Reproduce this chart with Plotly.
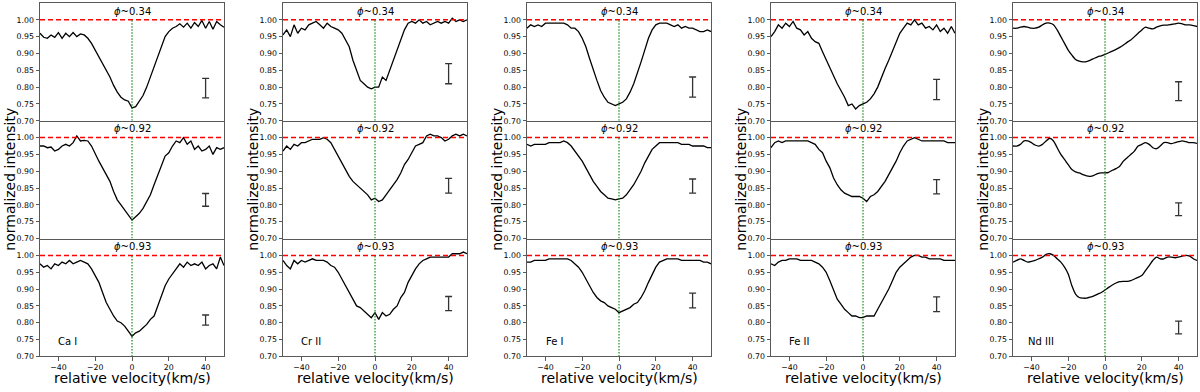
import plotly.graph_objects as go

# ---------------- data ----------------
velocity = [-50, -48, -46, -44, -42, -40, -38, -36, -34, -32, -30, -28, -26, -24, -22, -20, -18, -16, -14, -12,
            -10, -8, -6, -4, -2, 0, 2, 4, 6, 8, 10, 12, 14, 16, 18, 20, 22, 24, 26, 28,
            30, 32, 34, 36, 38, 40, 42, 44, 46, 48, 50]

elements = ["Ca I", "Cr II", "Fe I", "Fe II", "Nd III"]
phases = ["0.34", "0.92", "0.93"]

ca1_034 = [0.960, 0.948, 0.945, 0.955, 0.948, 0.962, 0.945, 0.960, 0.950, 0.962, 0.950, 0.958, 0.955, 0.945, 0.930, 0.910, 0.890, 0.870, 0.850, 0.830,
           0.805, 0.785, 0.770, 0.762, 0.758, 0.738, 0.742, 0.758, 0.775, 0.800, 0.830, 0.860, 0.890, 0.925, 0.950, 0.965, 0.975, 0.980, 0.988, 0.978,
           0.990, 0.975, 0.992, 0.980, 0.998, 0.975, 0.995, 0.972, 0.995, 0.985, 0.978]
ca1_092 = [0.975, 0.975, 0.970, 0.972, 0.960, 0.965, 0.975, 0.980, 0.975, 0.985, 1.005, 0.990, 0.992, 0.990, 0.975, 0.950, 0.930, 0.910, 0.890, 0.870,
           0.840, 0.815, 0.800, 0.785, 0.770, 0.755, 0.765, 0.775, 0.790, 0.810, 0.830, 0.860, 0.890, 0.920, 0.945, 0.955, 0.975, 0.990, 0.985, 1.000,
           0.980, 0.990, 0.965, 0.975, 0.960, 0.965, 0.975, 0.950, 0.970, 0.965, 0.970]
ca1_093 = [0.975, 0.965, 0.970, 0.960, 0.975, 0.970, 0.980, 0.975, 0.985, 0.975, 0.980, 0.985, 0.980, 0.975, 0.960, 0.940, 0.920, 0.890, 0.860, 0.840,
           0.820, 0.805, 0.800, 0.790, 0.775, 0.760, 0.770, 0.775, 0.785, 0.795, 0.810, 0.820, 0.850, 0.880, 0.910, 0.930, 0.945, 0.960, 0.975, 0.965,
           0.980, 0.970, 0.975, 0.970, 0.980, 0.960, 0.970, 0.975, 0.960, 0.995, 0.970]

cr2_034 = [0.955, 0.970, 0.950, 0.985, 0.960, 0.975, 0.970, 0.985, 0.990, 0.995, 0.985, 0.975, 0.990, 0.980, 0.975, 0.970, 0.960, 0.940, 0.920, 0.880,
           0.850, 0.820, 0.810, 0.800, 0.795, 0.800, 0.800, 0.830, 0.820, 0.850, 0.880, 0.910, 0.945, 0.970, 0.990, 0.995, 0.990, 1.000, 0.990, 0.995,
           0.985, 0.990, 0.995, 0.990, 0.995, 0.990, 1.005, 0.995, 1.000, 0.995, 1.000]
cr2_092 = [0.960, 0.975, 0.965, 0.980, 0.975, 0.985, 0.985, 0.990, 0.995, 0.995, 0.995, 1.000, 0.995, 0.985, 0.965, 0.945, 0.925, 0.905, 0.885, 0.870,
           0.860, 0.850, 0.840, 0.830, 0.815, 0.820, 0.810, 0.815, 0.830, 0.845, 0.860, 0.875, 0.895, 0.920, 0.935, 0.955, 0.975, 0.980, 0.985, 1.005,
           1.010, 1.005, 1.005, 1.000, 0.990, 0.995, 1.005, 1.010, 1.005, 1.010, 1.005]
cr2_093 = [0.985, 0.970, 0.960, 0.985, 0.975, 0.985, 0.980, 0.985, 0.990, 0.985, 0.985, 0.985, 0.980, 0.970, 0.965, 0.950, 0.930, 0.910, 0.890, 0.870,
           0.850, 0.845, 0.835, 0.825, 0.815, 0.830, 0.810, 0.830, 0.820, 0.825, 0.840, 0.850, 0.875, 0.890, 0.920, 0.940, 0.960, 0.975, 0.985, 0.990,
           0.995, 0.995, 0.995, 0.995, 0.995, 0.995, 1.005, 1.005, 1.005, 1.010, 1.005]

fe1_034 = [0.975, 0.985, 0.980, 0.985, 0.980, 0.990, 0.990, 0.990, 0.990, 0.990, 0.990, 0.985, 0.975, 0.975, 0.965, 0.945, 0.920, 0.885, 0.850, 0.820,
           0.790, 0.770, 0.755, 0.750, 0.745, 0.750, 0.755, 0.765, 0.785, 0.810, 0.840, 0.875, 0.910, 0.945, 0.970, 0.985, 0.990, 0.990, 0.990, 0.985,
           0.980, 0.985, 0.975, 0.980, 0.975, 0.975, 0.970, 0.965, 0.965, 0.970, 0.965]
fe1_092 = [0.980, 0.975, 0.980, 0.980, 0.980, 0.980, 0.985, 0.985, 0.985, 0.985, 0.990, 0.985, 0.975, 0.960, 0.945, 0.930, 0.910, 0.890, 0.870, 0.855,
           0.840, 0.830, 0.820, 0.818, 0.815, 0.818, 0.820, 0.830, 0.845, 0.860, 0.880, 0.900, 0.925, 0.945, 0.965, 0.975, 0.985, 0.985, 0.985, 0.985,
           0.985, 0.985, 0.980, 0.980, 0.980, 0.975, 0.975, 0.975, 0.975, 0.970, 0.970]
fe1_093 = [0.980, 0.980, 0.985, 0.985, 0.985, 0.985, 0.990, 0.990, 0.990, 0.990, 0.990, 0.990, 0.985, 0.975, 0.965, 0.950, 0.930, 0.910, 0.890, 0.875,
           0.865, 0.860, 0.850, 0.845, 0.840, 0.830, 0.835, 0.840, 0.845, 0.855, 0.860, 0.875, 0.895, 0.920, 0.945, 0.965, 0.980, 0.985, 0.990, 0.990,
           0.990, 0.990, 0.985, 0.985, 0.985, 0.985, 0.985, 0.985, 0.980, 0.980, 0.975]

fe2_034 = [0.950, 0.965, 0.985, 0.975, 0.990, 0.980, 0.995, 0.975, 0.970, 0.955, 0.965, 0.945, 0.935, 0.930, 0.905, 0.880, 0.860, 0.835, 0.810, 0.790,
           0.770, 0.745, 0.750, 0.735, 0.745, 0.750, 0.755, 0.765, 0.780, 0.800, 0.830, 0.855, 0.880, 0.905, 0.935, 0.960, 0.975, 0.990, 0.985, 1.000,
           0.985, 0.990, 0.975, 0.980, 0.970, 0.985, 0.965, 0.975, 0.960, 0.980, 0.960]
fe2_092 = [0.970, 0.985, 0.990, 0.985, 0.990, 0.990, 0.990, 0.990, 0.990, 0.990, 0.990, 0.985, 0.980, 0.965, 0.955, 0.930, 0.910, 0.880, 0.860, 0.845,
           0.835, 0.830, 0.825, 0.825, 0.825, 0.820, 0.810, 0.825, 0.830, 0.840, 0.855, 0.870, 0.890, 0.910, 0.930, 0.955, 0.975, 0.990, 0.995, 1.000,
           0.995, 0.990, 0.990, 0.990, 0.990, 0.990, 0.990, 0.990, 0.985, 0.985, 0.985]
fe2_093 = [0.975, 0.970, 0.980, 0.985, 0.985, 0.990, 0.990, 0.990, 0.985, 0.985, 0.985, 0.985, 0.980, 0.975, 0.965, 0.950, 0.925, 0.895, 0.870, 0.855,
           0.840, 0.830, 0.820, 0.820, 0.815, 0.815, 0.820, 0.820, 0.820, 0.840, 0.860, 0.880, 0.900, 0.925, 0.950, 0.965, 0.975, 0.985, 0.995, 1.000,
           1.000, 0.995, 0.995, 0.990, 0.990, 0.990, 0.990, 0.985, 0.985, 0.985, 0.985]

nd3_034 = [0.975, 0.975, 0.978, 0.980, 0.978, 0.975, 0.975, 0.978, 0.985, 0.990, 0.990, 0.985, 0.970, 0.950, 0.930, 0.910, 0.895, 0.882, 0.877, 0.875,
           0.876, 0.880, 0.885, 0.890, 0.893, 0.897, 0.902, 0.907, 0.912, 0.918, 0.925, 0.933, 0.940, 0.950, 0.960, 0.970, 0.978, 0.975, 0.973, 0.978,
           0.982, 0.984, 0.984, 0.986, 0.988, 0.990, 0.988, 0.985, 0.985, 0.983, 0.980]
nd3_092 = [0.975, 0.975, 0.980, 0.990, 0.990, 0.985, 0.978, 0.975, 0.980, 0.990, 0.998, 0.990, 0.970, 0.950, 0.935, 0.920, 0.905, 0.898, 0.895, 0.890,
           0.886, 0.885, 0.888, 0.893, 0.895, 0.895, 0.897, 0.903, 0.908, 0.915, 0.930, 0.940, 0.950, 0.960, 0.975, 0.980, 0.985, 0.980, 0.970, 0.967,
           0.975, 0.985, 0.985, 0.982, 0.985, 0.988, 0.990, 0.988, 0.985, 0.985, 0.983]
nd3_093 = [0.980, 0.985, 0.990, 0.985, 0.980, 0.982, 0.985, 0.990, 0.995, 1.003, 1.005, 1.000, 0.990, 0.980, 0.965, 0.945, 0.910, 0.885, 0.875, 0.873,
           0.873, 0.876, 0.880, 0.885, 0.890, 0.897, 0.905, 0.912, 0.918, 0.922, 0.923, 0.923, 0.925, 0.930, 0.935, 0.940, 0.955, 0.970, 0.985, 0.995,
           0.990, 0.990, 0.995, 0.995, 0.993, 0.995, 0.998, 1.000, 0.998, 0.990, 0.985]

# error bars (centre, half-length) at v = 40 km/s, one per phase
errbar_velocity = 40
ca1_err_centre = [0.797, 0.815, 0.808]
ca1_err_half = [0.029, 0.019, 0.015]
cr2_err_centre = [0.840, 0.857, 0.857]
cr2_err_half = [0.030, 0.022, 0.021]
fe1_err_centre = [0.800, 0.856, 0.866]
fe1_err_half = [0.030, 0.021, 0.022]
fe2_err_centre = [0.793, 0.854, 0.855]
fe2_err_half = [0.030, 0.021, 0.022]
nd3_err_centre = [0.788, 0.787, 0.786]
nd3_err_half = [0.028, 0.019, 0.019]

continuum_level = 1.0
y_ticks = [0.70, 0.75, 0.80, 0.85, 0.90, 0.95, 1.00]
x_ticks = [-40, -20, 0, 20, 40]
x_ticklabels = ["\u221240", "\u221220", "0", "20", "40"]

profiles = [[ca1_034, ca1_092, ca1_093],
            [cr2_034, cr2_092, cr2_093],
            [fe1_034, fe1_092, fe1_093],
            [fe2_034, fe2_092, fe2_093],
            [nd3_034, nd3_092, nd3_093]]
err_centres = [ca1_err_centre, cr2_err_centre, fe1_err_centre, fe2_err_centre, nd3_err_centre]
err_halves = [ca1_err_half, cr2_err_half, fe1_err_half, fe2_err_half, nd3_err_half]

# ---------------- layout ----------------
W, H = 1200, 392
col_left = [40, 283, 527, 771, 1013]
col_w = 184
top_px, bot_px = 3, 361
ph = (bot_px - top_px) / 3.0
FONT = "DejaVu Sans"
frame = "#595959"

fig = go.Figure()
layout = dict(width=W, height=H, margin=dict(l=0, r=0, t=0, b=0),
              paper_bgcolor="white", plot_bgcolor="white", showlegend=False,
              font=dict(family=FONT, color="black"))
annotations = []

for c in range(5):
    for r in range(3):
        idx = c * 3 + r + 1
        xa = "x" if idx == 1 else f"x{idx}"
        ya = "y" if idx == 1 else f"y{idx}"
        xk = "xaxis" if idx == 1 else f"xaxis{idx}"
        yk = "yaxis" if idx == 1 else f"yaxis{idx}"
        y0 = 1 - (top_px + (r + 1) * ph) / H
        y1 = 1 - (top_px + r * ph) / H
        layout[xk] = dict(domain=[col_left[c] / W, (col_left[c] + col_w) / W], anchor=ya,
                          range=[-50, 50], showgrid=False, zeroline=False,
                          showline=True, mirror=(r == 0), linecolor=frame, linewidth=1,
                          ticks="outside" if r == 2 else "", ticklen=3.5, tickcolor=frame,
                          tickvals=x_ticks, ticktext=x_ticklabels,
                          showticklabels=(r == 2), tickfont=dict(size=7.8, family=FONT))
        layout[yk] = dict(domain=[y0, y1], anchor=xa, range=[0.70, 1.05],
                          showgrid=False, zeroline=False,
                          showline=True, mirror=True, linecolor=frame, linewidth=1,
                          ticks="outside", ticklen=3.5, tickcolor=frame,
                          tickvals=y_ticks, ticktext=[f"{v:.2f}" for v in y_ticks],
                          tickfont=dict(size=7.8, family=FONT))
        prof = profiles[c][r]
        fig.add_trace(go.Scatter(x=velocity, y=prof, mode="lines", xaxis=xa, yaxis=ya,
                                 line=dict(color="black", width=1.3,
                                           shape="spline" if c == 4 else "linear",
                                           smoothing=0.8)))
        fig.add_trace(go.Scatter(x=[velocity[0], velocity[-1]], y=[continuum_level, continuum_level],
                                 mode="lines", xaxis=xa, yaxis=ya,
                                 line=dict(color="#ff0000", width=1.5, dash="5px,3px")))
        fig.add_trace(go.Scatter(x=[0, 0], y=[0.70, continuum_level], mode="lines",
                                 xaxis=xa, yaxis=ya,
                                 line=dict(color="#008000", width=1.1, dash="1.5px,1.5px")))
        fig.add_trace(go.Scatter(x=[errbar_velocity], y=[err_centres[c][r]], mode="markers",
                                 xaxis=xa, yaxis=ya, marker=dict(size=0.1, color="#333333"),
                                 error_y=dict(type="constant", value=err_halves[c][r],
                                              color="#333333", thickness=1.3, width=3.5)))
        annotations.append(dict(x=0, y=1.026, xref=xa, yref=ya, text=f"<i>\u03d5</i>~{phases[r]}",
                                showarrow=False, font=dict(size=10, family=FONT),
                                xanchor="center", yanchor="middle"))
        if r == 2:
            annotations.append(dict(x=-35, y=0.743, xref=xa, yref=ya, text=elements[c],
                                    showarrow=False, font=dict(size=10, family=FONT),
                                    xanchor="center", yanchor="middle"))
    # column axis titles
    annotations.append(dict(x=(col_left[c] - 30) / W, y=1 - 182 / H, xref="paper", yref="paper",
                            text="normalized intensity", textangle=-90, showarrow=False,
                            font=dict(size=14, family=FONT), xanchor="center", yanchor="middle"))
    annotations.append(dict(x=(col_left[c] + col_w / 2) / W, y=1 - 383 / H, xref="paper", yref="paper",
                            text="relative velocity(km/s)", showarrow=False,
                            font=dict(size=14, family=FONT), xanchor="center", yanchor="middle"))

layout["annotations"] = annotations
fig.update_layout(**layout)
fig.write_html("out.html", config={"displayModeBar": False},
               post_script="document.body.style.margin='0';document.body.style.overflow='hidden';")
